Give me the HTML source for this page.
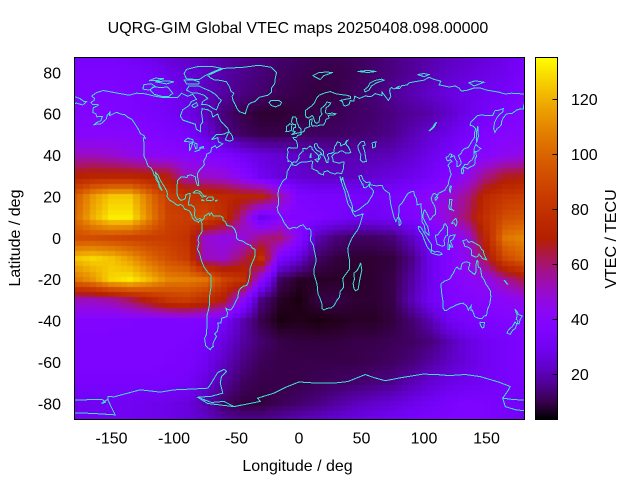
<!DOCTYPE html>
<html><head><meta charset="utf-8">
<style>
html,body{margin:0;padding:0;background:#fff;}
#w{position:relative;width:640px;height:480px;overflow:hidden;background:#fff;}
#hm{position:absolute;left:74px;top:57px;width:450px;height:362px;background:#7a00f0;}
#ov{position:absolute;left:0;top:0;}
text{font-family:"Liberation Sans",Arial,sans-serif;font-size:16px;fill:#000;}
</style></head>
<body><div id="w">
<canvas id="hm" width="450" height="362"></canvas>
<svg id="ov" width="640" height="480" viewBox="0 0 640 480">
<defs>
<clipPath id="pc"><rect x="74" y="57" width="450" height="362"/></clipPath>
<linearGradient id="cb" x1="0" y1="1" x2="0" y2="0">
<stop offset="0" stop-color="rgb(0,0,0)"/>
<stop offset="0.05" stop-color="rgb(57,0,79)"/>
<stop offset="0.1" stop-color="rgb(81,0,150)"/>
<stop offset="0.15" stop-color="rgb(99,1,206)"/>
<stop offset="0.2" stop-color="rgb(114,2,243)"/>
<stop offset="0.25" stop-color="rgb(128,4,255)"/>
<stop offset="0.3" stop-color="rgb(140,7,243)"/>
<stop offset="0.35" stop-color="rgb(151,11,206)"/>
<stop offset="0.4" stop-color="rgb(161,16,150)"/>
<stop offset="0.45" stop-color="rgb(171,23,79)"/>
<stop offset="0.5" stop-color="rgb(180,32,0)"/>
<stop offset="0.55" stop-color="rgb(189,42,0)"/>
<stop offset="0.6" stop-color="rgb(198,55,0)"/>
<stop offset="0.65" stop-color="rgb(206,70,0)"/>
<stop offset="0.7" stop-color="rgb(213,87,0)"/>
<stop offset="0.75" stop-color="rgb(221,108,0)"/>
<stop offset="0.8" stop-color="rgb(228,131,0)"/>
<stop offset="0.85" stop-color="rgb(235,157,0)"/>
<stop offset="0.9" stop-color="rgb(242,186,0)"/>
<stop offset="0.95" stop-color="rgb(249,219,0)"/>
<stop offset="1" stop-color="rgb(255,255,0)"/>
</linearGradient>
</defs>

<g clip-path="url(#pc)">
<g transform="translate(299 238) scale(1.25 -2.0686)" fill="none" stroke="#40e0d0" stroke-width="1" shape-rendering="crispEdges">
<polyline vector-effect="non-scaling-stroke" points="-166,68.5 -162,70.3 -156.5,71.3 -152,70.8 -145,70 -141,69.6 -136,69 -130,70 -124,69.8 -117,68.8 -110,68 -103,68 -97,68 -94,70 -89,68.5 -85,69.5 -82,67 -86,66 -88,64 -93,62 -95,59 -93,57 -88,56 -83,55 -82,52.5 -79,51.5 -79,54.5 -77,56 -77.5,58.5 -78,60.5 -77.5,62.5 -73,62 -70,61 -69,58.5 -65,60 -64,58 -62,56 -60,55 -57,53 -56,51.5 -60,50.2 -66,50 -70,47.5 -65,48.5 -64.5,46.5 -61,45.5 -63.5,44.5 -66,43.5 -67,44.7 -70,43.5 -70.5,41.7 -72,41 -74,40.5 -74,39.5 -75.5,38 -76.3,37 -75.7,35.5 -77,34.5 -79,33.3 -81,31.5 -81.2,29.5 -80.3,27 -80.2,25.5 -81.3,25.5 -82.5,27.5 -82.8,29.5 -84.5,30 -86,30.4 -89,30.3 -89.5,29.2 -91,29.4 -94,29.6 -97,28 -97.5,25.5 -97.8,22.5 -97.2,20.5 -96,19 -94.5,18.2 -92,18.6 -91,19.2 -90.4,21 -88,21.5 -87,21.5 -87.5,19.5 -88.2,17.5 -88.5,16 -86,15.9 -84,15 -83.3,13.5 -83.7,11 -83,10 -81.5,8.8 -79.5,9.5 -77.5,8.6 -76,9.5 -75.5,10.6 -74,11.2 -72,12 -71.5,11 -70,12.2 -68.5,10.6 -66,10.6 -63,10.7 -61,10 -61,8.5 -59,8 -57.5,6 -54,5.7 -52,4.7 -51,3.5 -50,1.8 -50,0 -48.5,-1 -45,-1.5 -42,-2.8 -39,-3.5 -37,-5 -35.2,-5.5 -35,-8 -36,-10 -37.5,-12 -39,-14.5 -39.3,-17.5 -40,-20 -41,-22 -42,-23 -44.5,-23.3 -47,-24.5 -48.5,-26 -48.7,-28.5 -50.5,-30.5 -52.5,-33 -53.5,-34 -55,-34.8 -57,-34.5 -58.5,-34 -57.3,-36 -57.5,-38 -62,-38.8 -62.3,-41 -65,-41.2 -64.5,-42.5 -65.3,-45 -67.5,-46.3 -66,-47.5 -68.3,-50.2 -69,-51.5 -68.5,-52.5 -70,-53 -71,-54 -73,-53 -74.7,-52 -75.5,-48.5 -74,-46.5 -73.7,-43 -73.5,-41 -73.7,-37.5 -72.5,-35 -71.5,-32 -71.5,-28 -70.5,-24 -70.2,-20 -70.4,-18 -72.5,-17 -76,-14 -78,-11 -79.5,-7.5 -81.2,-5.5 -80.5,-3.5 -80,-2.5 -80.8,-1 -80,1 -79,1.7 -77.7,3 -77.4,4.5 -77.5,6.8 -78.5,8.5 -79.5,8.5 -80.5,7.5 -81.5,8 -83.5,8.5 -85.5,10 -85.8,11 -87.5,13 -89,13.5 -91.5,14 -93,15.7 -95,16.2 -96.5,15.7 -98.5,16.3 -101,17.5 -103.5,18.3 -105.5,20 -105.3,21.5 -106,23 -108,25 -109.5,26.5 -111,28 -112.8,30.5 -114.8,31.8 -114.5,30.5 -113.3,28.5 -112.2,27 -111.5,25.5 -110.5,24.2 -109.5,23 -110.2,23.4 -112,24.8 -112.3,26.5 -114.2,28 -114.8,29.8 -116,30.5 -116.7,31.8 -117.2,32.7 -118.5,34 -120.6,34.6 -121.8,36.5 -122.5,37.8 -123.7,39 -124.2,40.5 -124,43 -124,46 -124.6,48.3 -123,48.2 -124,49.5 -127,50.5 -128,52 -130,54 -131.5,55.5 -134,57.5 -136.5,58.2 -139.5,59.6 -143,60 -146,60.8 -148.5,60 -151.5,59.2 -151.3,60.8 -153.5,59.2 -154.2,57.5 -156.5,56.2 -159,55 -161.7,55.2 -164.5,54.5 -162,55.8 -158.5,56.7 -157.3,58.7 -161.7,58.6 -162.5,60 -165,60.7 -164.5,63 -161,64 -161,64.5 -165,64.5 -166.5,65.5 -164,66.5 -163.5,67.5 -166,68.5"/>
<polyline vector-effect="non-scaling-stroke" points="-73,78.5 -66,80.5 -60,82 -45,82.5 -32,83.5 -22,82.5 -18,80 -19,77 -19.5,74.5 -22,72.5 -22,70.5 -25,69 -32,68 -35,66 -38,65.5 -40.5,64.5 -42,62 -43,60 -45,60.5 -47.5,61 -49.5,62.5 -51,64.5 -52.8,66.5 -53.5,68.5 -52,70 -54.5,71 -55.5,73 -58,75.5 -63,76.2 -68,76.5 -71,77.5 -73,78.5"/>
<polyline vector-effect="non-scaling-stroke" points="-62,66.5 -64,65 -66,62 -68.5,62.5 -72,64 -74.5,64.5 -78,64.5 -77,66 -73,67.5 -76,69 -81,70 -86,70.2 -90,71.5 -88,73.5 -80,73.5 -76,72.3 -71,71 -67,69.5 -64,67.5 -62,66.5"/>
<polyline vector-effect="non-scaling-stroke" points="-119,71.5 -117,73 -110,72.8 -105,73 -101,70 -104,68.5 -110,68.5 -116,69.5 -119,71.5"/>
<polyline vector-effect="non-scaling-stroke" points="-125,72 -124,74.2 -118,74.5 -115,73.3 -120,71.5 -125,72"/>
<polyline vector-effect="non-scaling-stroke" points="-90,77 -80,76.5 -75,78.5 -68,80.5 -62,82 -70,83 -80,83 -90,81.5 -92,79.5 -90,77"/>
<polyline vector-effect="non-scaling-stroke" points="-80,74.5 -90,74.5 -92,76.5 -85,76.5 -80,75.5 -80,74.5"/>
<polyline vector-effect="non-scaling-stroke" points="-115,75.5 -105,76 -100,75.5 -106,74.5 -115,75.5"/>
<polyline vector-effect="non-scaling-stroke" points="-120,76 -115,77.3 -108,77 -113,76.2 -120,76"/>
<polyline vector-effect="non-scaling-stroke" points="-86,64 -82,65.5 -81,64 -84,63 -86,64"/>
<polyline vector-effect="non-scaling-stroke" points="-59,47.5 -56,51.5 -53.5,49.5 -52.7,47.5 -55.5,46.8 -59,47.5"/>
<polyline vector-effect="non-scaling-stroke" points="-92,46.7 -89,48.3 -85,47.5 -84.5,46.5 -88,46.5 -92,46.7"/>
<polyline vector-effect="non-scaling-stroke" points="-87.8,42 -87.5,45.5 -85,46 -86.5,43.5 -87.8,42"/>
<polyline vector-effect="non-scaling-stroke" points="-84,46 -81.5,45.5 -81.7,43.2 -82.5,43 -84,45.5"/>
<polyline vector-effect="non-scaling-stroke" points="-83.5,41.7 -79,42.8 -81,42.2 -83.5,41.7"/>
<polyline vector-effect="non-scaling-stroke" points="-79.8,43.3 -76.2,43.5 -76.5,44.2 -79,43.8 -79.8,43.3"/>
<polyline vector-effect="non-scaling-stroke" points="-85,21.8 -82,23.1 -79,22.4 -76,20.3 -74.2,20.2 -77.5,19.8 -80,21.8 -83,21.8 -85,21.8"/>
<polyline vector-effect="non-scaling-stroke" points="-74.5,18.5 -72.5,19.9 -69,19.7 -68.3,18.5 -71,18 -74.5,18.3"/>
<polyline vector-effect="non-scaling-stroke" points="-78.3,18.3 -76.3,18 -77,18.5 -78.3,18.3"/>
<polyline vector-effect="non-scaling-stroke" points="-67.2,18 -65.6,18.3 -65.8,18 -67.2,18"/>
<polyline vector-effect="non-scaling-stroke" points="-180,68.5 -175,67.3 -172,66 -170,66 -173,64.3 -178,65.2 -180,65"/>
<polyline vector-effect="non-scaling-stroke" points="-5.6,36 -6,35.8 -9.5,32 -10,29 -13,27.5 -16,24 -17,21 -16.3,19 -16.5,16 -17.5,14.7 -16.7,12.5 -15,11 -13.5,9.5 -12,7.5 -9,5 -7.5,4.4 -4,5.2 -2,4.8 1,6 3.5,6.3 6,4.3 8.5,4.5 9.5,3.5 9.5,1 9,-1 11.5,-3.5 12.2,-6 13.3,-9 13.8,-11 12.2,-14.5 11.8,-17 14.5,-22.5 15.2,-27 16.5,-28.6 18.2,-31.5 18.3,-34 20,-34.8 22.5,-34 25.8,-33.8 28,-32.6 30.5,-30 32.5,-28.5 32.8,-26 35.5,-24 35.5,-22 35,-19.5 36.8,-18 40.5,-15 40.5,-11 39.5,-8 39,-5 40.5,-2.5 42,-0.5 44,1.5 46.5,3.5 48.5,6 50,9 51.2,11.7 49,11.2 45,10.5 43.3,11.8 42.5,13 41.5,14.5 39.5,16 38.5,18 37.2,21 36.5,23 35.6,24 34,27 32.6,29.8 34.2,27.8 34.9,29.5 35.5,27.8 37,25 39,22 40.5,19 42.5,16 43.2,13 45,12.8 48.5,14 52,15.7 55,17 56.8,18.8 58.5,20.5 59.8,22.5 58.5,23.6 56.3,24.8 56.4,26.2 55,25 53,24.2 51.5,24.5 51.3,26 50.5,26 50,27 48.5,28.5 48,30 50,30.2 51.5,27.9 54,26.7 56.5,27.1 57.5,25.7 61.5,25.2 66.5,25.4 67.4,24 68.5,23.2 70,22.5 72.5,21.5 72.8,19 73.5,16 74.8,12.8 76,10 77.5,8 78.2,8.9 79.5,10.3 80,13 80.2,15.5 82.2,16.7 84.5,19 87,21.5 88.5,22 90.5,22.5 91.8,22.4 92.5,20.5 94,19 94.5,16 97.5,16.5 98,13 98.5,10 98.3,8 100.3,6 101,3 103.4,1.5 104.2,1.4 103.5,4 103,5.5 101.5,7 100.3,8.5 99.2,10 99.5,12.5 100.5,13.5 102,12.3 103,11 104.8,8.7 106,9.5 107,10.5 109.2,11.5 109.3,13.5 108.5,15.5 106.5,17.5 105.7,19 106.7,20.7 108,21.6 110,21 110.5,20.3 111.5,21.6 114,22.3 116.5,23 118,24.5 119.5,26 120,28 121.8,30.8 121,32 120.5,33.8 119.2,35 120.5,36.3 122.5,37 121,37.8 119,37.2 118,38.2 117.5,39 119,39.3 121,40.7 122.3,40.4 121.3,39 124,39.8 125.3,37.8 126.5,37 126.2,34.5 127.8,34.7 129.4,35.6 129.5,37 128.3,38.8 127.5,39.8 129.7,40.9 130.7,42.3 132.5,43.2 135.5,43.8 138,46.5 140.3,48.5 140.5,51 141.3,52.8 139,54.2 136.8,54.5 137.5,56 140.5,57.8 143,59.3 146.5,59.4 151.5,59.2 155,59.3 156.7,61.5 160,61.8 163.5,62.6 163,61 160,59.5 158,57.8 156.5,56 155.7,53 156.7,51 158.5,52.9 160,53.5 162,54.8 162,56.2 163.3,58 166,60 170.5,60.2 174,61.8 177.5,62.5 179.5,62.3 180,65"/>
<polyline vector-effect="non-scaling-stroke" points="180,69.5 176,69.8 170,70 165,69.6 160,70.5 155,71 150,71.5 145,72.5 140,72.5 135,71.5 130,71 128,72.5 125,73.5 120,73 115,73.7 112,74 113.5,75.8 108,76.7 104,77.7 100,76.3 97,76 92,75.5 88,75 86.5,74 82,73.6 80.5,72.2 78,72.2 80.5,73.5 76,72 74,72.8 72.8,72.2 72.5,71 73.5,68.5 71.5,66.5 69,68.5 66.5,70.5 66.5,68.8 64.5,69.2 61,69.8 58,68.5 55,68.4 53.5,68.8 48.5,67.5 44.5,68.5 44,66.2 41,66.4 40,64.5 37,63.8 35.5,64.3 34.8,65.9 33,66.5 36,66.9 41,67.5 41,68.5 38,69 33,69.4 29,69.8 25,70.8 20,70 16,69 14,67.5 12.5,65.5 10.5,64 7,62.5 5,61.5 5,59.5 5.7,58.5 7.5,58 10.5,59.2 11.2,58.8 12,57.5 12.7,56 14.3,55.4 15.9,56.1 16.5,57.5 16.5,58.5 18.5,60 17.5,61 17.5,62.5 21.3,64.5 22.2,65.8 25.4,65.3 24.5,64.3 21.5,62.8 21.3,60.7 22.5,60 26.5,60.4 29.5,60 28,59.5 23.4,59.3 24,58 21.5,57.3 21,56 19.5,54.5 17,54.7 14,54 12,54.3 10.8,54 10,55 10.5,57.7 8.5,57 8.2,55.5 8.7,53.9 7,53.5 5,53 4,51.5 2,51 1.5,50 -1.2,49.5 -1.9,48.7 -4.6,48.5 -4.2,47.8 -2.2,47.1 -1.5,46 -1.2,44.5 -1.5,43.4 -4,43.4 -8,43.7 -9.3,43 -8.8,41.5 -9.5,39 -8.8,37.9 -8.9,37 -7.5,37.2 -6.3,36.8 -5.6,36 -4.5,36.7 -2,36.7 -0.5,38.2 0.2,39 -0.3,39.5 0.5,40.5 3.2,41.9 3,43.2 4.5,43.4 6,43 7.5,43.8 8.8,44.4 10.2,43.9 10.5,42.9 12.2,41.8 14,40.8 15.6,40 15.6,38.2 16.1,38 17.1,39 16.5,39.8 17,40.5 18.5,40.1 18,41 16,41.9 14,42.5 12.3,44.2 12.4,45.3 13.7,45.7 14.5,45.3 15.5,43.8 17.5,43 19.5,41.8 19.5,40.2 21,38.3 22,36.5 23,36.5 23,38 24,38.2 22.6,40.3 24,40.8 26,40.8 26.5,41.3 28,41.5 28.2,43 28.6,44.2 29.6,45 30.7,46.5 33,46 33.5,44.5 35.5,45.2 36.5,45.2 38,47 39,47.2 37.5,46 38,45 39.5,44 41.5,41.5 40,41 37,41.2 35,42 33,42 31,41.1 29,41 27.5,40.4 26.2,39.5 27,38.5 27.2,37 28.5,36.7 30.5,36.4 32.5,36.1 34.5,36.8 36,36.8 35.8,35.5 35.5,33.5 34.9,32.5 34.2,31.3 33,31.1 32.3,31.3 30,31.4 29,30.9 25,31.6 23,32.5 20,32 19.5,30.5 18,30.8 15.5,31.5 15,32.3 11.5,33.2 10.3,33.7 10.5,35.5 11,37 9.5,37.3 8,36.9 5,36.8 3,36.8 1,36.5 -1,35.7 -2.2,35.1 -5,35.2 -5.6,36"/>
<polyline vector-effect="non-scaling-stroke" points="47,44.5 49.5,46.5 52,46.7 53,45 51,44.5 52.5,42 53,40 53.5,38 54,37 51,36.7 49,37.8 49.5,40.3 48,42 47.5,43 47,44.5"/>
<polyline vector-effect="non-scaling-stroke" points="58.5,46 61.5,46.5 61,44 59,43.5 58.5,46"/>
<polyline vector-effect="non-scaling-stroke" points="104,51.7 106,52.5 108.5,54 109.8,55.7 109,55.5 107,53.5 104.5,52 104,51.7"/>
<polyline vector-effect="non-scaling-stroke" points="-5,50 -3,50.5 1.5,51 1.7,52.8 0,53.5 -0.5,54.5 -1.5,55.5 -2,57 -1.8,57.6 -3,58.6 -5,58.6 -5.7,57.3 -6,56 -4.8,55 -3,54.9 -3,54 -3,53.4 -4.5,53.2 -4.2,52.3 -5,51.7 -3,51.4 -5.7,50 -5,50"/>
<polyline vector-effect="non-scaling-stroke" points="-6,52 -6,53.8 -5.5,54.7 -7.5,55.3 -8.5,54.5 -10,54 -9.8,52 -10.3,51.6 -8,51.6 -6,52"/>
<polyline vector-effect="non-scaling-stroke" points="-22,64 -24,65.5 -22.5,66.4 -16,66.5 -14,65.5 -15,64.3 -18.7,63.4 -22,64"/>
<polyline vector-effect="non-scaling-stroke" points="11,78.5 16,80 22,80.2 27,80 20,78.5 17,76.6 14,77.5 11,78.5"/>
<polyline vector-effect="non-scaling-stroke" points="52,71.5 55,73 57,75 61,76.2 66,76.8 68,76.3 62,75 58,73.5 56,71.5 53,70.7 52,71.5"/>
<polyline vector-effect="non-scaling-stroke" points="140,73.5 136,75 141,76 148,75.3 140,73.5"/>
<polyline vector-effect="non-scaling-stroke" points="95,79 100,79.5 104,79 100,78 95,79"/>
<polyline vector-effect="non-scaling-stroke" points="47,80.5 55,81 62,80.5 55,80 47,80.5"/>
<polyline vector-effect="non-scaling-stroke" points="8.5,39 9.7,41 9.5,39 8.5,39"/>
<polyline vector-effect="non-scaling-stroke" points="12.5,38 15.6,38.2 15,36.7 12.5,38"/>
<polyline vector-effect="non-scaling-stroke" points="80,6 79.8,8 80,9.8 81.2,8.5 81.8,7.2 80.6,6 80,6"/>
<polyline vector-effect="non-scaling-stroke" points="49.3,-12 50.3,-15.5 49.5,-17.5 48.5,-20.5 47.3,-24.8 45.2,-25.5 44,-24.5 43.3,-22 44.3,-20 44,-17 46.5,-15.7 48,-14 49.3,-12"/>
<polyline vector-effect="non-scaling-stroke" points="130.9,34 132.5,35.5 135,35.6 136.5,37 138.5,37.8 140,39.5 140,41.3 141.5,41.2 142,39.5 141,38.3 140.8,36 139.8,35 138.5,34.7 136.8,34.3 135,33.5 132.5,34.2 130.9,34"/>
<polyline vector-effect="non-scaling-stroke" points="129.8,33.3 131,34 131.8,32.5 131,31 130.2,31.3 129.8,33.3"/>
<polyline vector-effect="non-scaling-stroke" points="140,41.5 140,43 141.5,45.4 143,44.2 145.5,43.3 143.3,42 141,41.8 140,41.5"/>
<polyline vector-effect="non-scaling-stroke" points="142,46 141.8,48.5 142.2,51.8 143,54 143.3,51 143.5,49 142.5,47 142,46"/>
<polyline vector-effect="non-scaling-stroke" points="120.2,23 121,25.2 121.9,25 121,22 120.2,23"/>
<polyline vector-effect="non-scaling-stroke" points="108.6,19.2 110,20 111,19.6 109.5,18.2 108.6,19.2"/>
<polyline vector-effect="non-scaling-stroke" points="120,14.5 120.5,18.5 122.3,18.5 122,16.5 121.5,14.3 124,13 123,13.5 120.8,13.8 120,14.5"/>
<polyline vector-effect="non-scaling-stroke" points="122,7 123.5,8.5 125.5,9.5 126.5,7.5 125.5,5.8 124,7.2 122,7"/>
<polyline vector-effect="non-scaling-stroke" points="109,1.5 109.7,-1 110.5,-3 114.5,-4 116.5,-3.5 116,-1 117.5,1 118.8,1.2 119,5 117,7 116,6.5 115.5,5 113,3.2 111,1.5 109,1.5"/>
<polyline vector-effect="non-scaling-stroke" points="95.3,5.6 97.5,5.2 100.3,2.2 103.5,-1 106,-3.2 106,-5.8 104.5,-5.8 102.3,-4 100.3,-1 98.6,1.7 96,3.8 95.3,5.6"/>
<polyline vector-effect="non-scaling-stroke" points="105.2,-6.8 106.5,-6 108.5,-6.8 111,-6.5 112.8,-6.9 114.5,-7.8 112,-8.3 108.5,-7.8 106,-7.3 105.2,-6.8"/>
<polyline vector-effect="non-scaling-stroke" points="119,-5.5 120.5,-5.5 120.5,-3 121.5,-4.5 123,-4.3 121,-1.5 123,-0.8 125,1.5 121,1.2 120,0.5 119.5,-1.5 119,-5.5"/>
<polyline vector-effect="non-scaling-stroke" points="131,-1.3 134,-0.8 136,-2.2 138,-1.6 141,-2.6 144.5,-3.8 146,-5.5 147.5,-6.2 148,-8 150,-10.5 147,-10 144,-7.8 143,-9 141,-9.2 138,-8.3 137.8,-5.5 135.5,-4.5 132.7,-4 132,-2.8 131,-1.3"/>
<polyline vector-effect="non-scaling-stroke" points="113.5,-22 114,-26 115,-30 115,-33.5 116.5,-35 118,-35 121,-33.8 124,-33 126,-32.3 129,-31.7 131.2,-31.5 134,-32.7 135.5,-34.8 136.8,-33.5 137.8,-32.7 137.5,-35 138.5,-34.8 139.6,-36.2 140.5,-38 143.5,-38.8 146.3,-39 148,-37.8 150,-37.4 150.8,-34.5 152.5,-32.2 153.5,-28.5 153,-25.5 151,-23.5 149.5,-22.3 148,-20 146.3,-18.8 145.5,-16 145.3,-14.8 143.5,-14 143,-11 142.5,-10.8 141.6,-12.9 141.5,-16.5 140.5,-17.6 139,-17 136.5,-15.8 135.5,-15 136.8,-12.2 136,-11.8 133,-11.5 131,-12.2 130,-13 129.5,-15 128,-15 126.5,-14 125,-15 123.5,-17 122.2,-18 121,-19.6 118.5,-20.4 116.5,-20.8 114.5,-21.8 113.5,-22"/>
<polyline vector-effect="non-scaling-stroke" points="144.6,-40.7 148.3,-40.9 148,-43 146.8,-43.6 145.2,-42.2 144.6,-40.7"/>
<polyline vector-effect="non-scaling-stroke" points="172.7,-34.4 174.3,-35.4 175.5,-37 178.5,-37.7 177,-39.3 176,-41.5 174.6,-41.3 175.2,-40 173.8,-39.2 174.6,-37.4 172.7,-34.4"/>
<polyline vector-effect="non-scaling-stroke" points="172.7,-40.5 174.3,-41.5 173,-43.8 171,-44.5 169,-46.6 166.5,-46 167,-45 168.3,-44 170.5,-42.9 172,-41.5 172.7,-40.5"/>
<polyline vector-effect="non-scaling-stroke" points="164,-20.3 167,-22.3 166.5,-22.3 164,-20.3"/>
<polyline vector-effect="non-scaling-stroke" points="-180,-78.4 -170,-78.2 -160,-78 -157,-78.2 -155,-79.5 -158,-80 -153,-78 -153,-76.6 -148,-76.8 -137,-75 -127,-73.4 -111,-74.5 -100,-73.4 -85,-73 -73,-72.6 -71,-71 -68,-68 -65,-65 -60,-63.5 -58,-64.5 -62,-67 -63,-70 -61,-75 -70,-76.5 -81,-77 -73,-80 -52,-81.5 -31,-79 -33,-77.4 -20,-75 -10,-72 0,-69.6 10,-70 27,-70.2 39,-69.4 53,-66 60,-67.5 69,-69 80,-67.7 99,-65.8 110,-66 120,-66.5 133,-66 145,-67 160,-69.7 169,-71.8 167,-74 163,-77.4 170,-78 180,-78.4"/>
<polyline vector-effect="non-scaling-stroke" points="-180,-84.5 -165,-84.8 -147,-85.5 -150,-82 -153,-78"/>
<polyline vector-effect="non-scaling-stroke" points="163,-77.4 165,-81.5 173,-83 180,-83.5"/>
<polyline vector-effect="non-scaling-stroke" points="-81,-77 -70,-79.5 -60,-79 -52,-81.5"/>
</g>
</g>

<rect x="74.5" y="57.5" width="450" height="362" fill="none" stroke="#000" stroke-width="1"/>

<rect x="535.5" y="57.5" width="22" height="362" fill="url(#cb)" stroke="#000" stroke-width="1"/>
<g stroke="#000" stroke-width="1">
<line x1="552.5" y1="374.5" x2="557.5" y2="374.5"/>
<line x1="552.5" y1="319.5" x2="557.5" y2="319.5"/>
<line x1="552.5" y1="264.5" x2="557.5" y2="264.5"/>
<line x1="552.5" y1="209.5" x2="557.5" y2="209.5"/>
<line x1="552.5" y1="154.5" x2="557.5" y2="154.5"/>
<line x1="552.5" y1="99.5" x2="557.5" y2="99.5"/>
</g>
<text x="571" y="380">20</text>
<text x="571" y="325">40</text>
<text x="571" y="270">60</text>
<text x="571" y="215">80</text>
<text x="571" y="160">100</text>
<text x="571" y="105">120</text>

<g text-anchor="end">
<text x="61" y="78.3">80</text>
<text x="61" y="119.7">60</text>
<text x="61" y="161.1">40</text>
<text x="61" y="202.4">20</text>
<text x="61" y="243.8">0</text>
<text x="61" y="285.2">-20</text>
<text x="61" y="326.5">-40</text>
<text x="61" y="367.9">-60</text>
<text x="61" y="409.3">-80</text>
</g>
<g text-anchor="middle">
<text x="111.5" y="443.5">-150</text>
<text x="174" y="443.5">-100</text>
<text x="236.5" y="443.5">-50</text>
<text x="299" y="443.5">0</text>
<text x="361.5" y="443.5">50</text>
<text x="424" y="443.5">100</text>
<text x="486.5" y="443.5">150</text>
<text x="298" y="33">UQRG-GIM Global VTEC maps 20250408.098.00000</text>
<text x="297.5" y="471">Longitude / deg</text>
<text transform="translate(20 238) rotate(-90)">Latitude / deg</text>
<text transform="translate(616 239) rotate(-90)">VTEC / TECU</text>
</g>
</svg>
</div>
<script>
(function(){
var G=[
[32,32,32,30,28,24,22,20,18,16,15,13,12,11,11,12,13,15,17,19,21,23,25,28,32],
[35,35,35,34,32,28,25,22,19,16,14,12,11,10,10,11,13,15,17,20,23,25,27,29,33],
[36,36,36,35,33,30,27,22,18,15,13,11,10,9,10,12,14,17,20,23,26,28,30,32,36],
[38,38,37,36,34,32,28,22,14,10,8,8,9,10,11,12,13,15,17,19,23,28,32,35,38],
[40,40,40,40,38,36,34,26,16,12,10,10,12,12,12,13,14,16,20,24,28,33,37,39,40],
[52,52,50,46,43,42,41,39,36,30,26,24,22,20,20,20,20,21,24,28,33,38,40,44,46],
[70,72,72,72,70,68,52,50,48,40,30,25,24,22,22,22,24,26,28,32,38,45,58,66,68],
[95,115,125,125,105,85,80,78,75,72,72,55,36,34,34,33,32,34,38,42,48,58,75,82,85],
[100,120,132,132,110,88,85,90,78,55,28,38,38,36,33,30,30,32,36,42,50,62,80,92,95],
[92,92,90,88,86,85,80,50,46,48,58,60,40,20,14,12,12,14,22,32,38,48,75,105,110],
[124,128,124,115,102,92,85,52,50,62,78,35,25,12,9,8,8,9,15,28,38,45,65,90,100],
[104,114,128,132,122,110,108,105,88,80,42,12,7,7,7,7,8,10,18,28,38,42,45,55,65],
[52,52,55,62,72,82,85,78,68,42,15,7,5,9,10,8,8,10,20,30,36,38,40,42,45],
[38,38,37,37,36,36,37,36,32,20,10,5,6,5,6,7,7,9,13,20,30,34,36,37,38],
[36,36,36,36,36,36,35,32,26,18,13,10,9,9,9,10,10,11,12,14,20,26,30,33,36],
[36,36,36,36,36,35,34,30,22,15,11,10,10,10,10,10,11,12,14,18,22,26,30,33,36],
[34,34,34,34,34,33,32,26,18,12,10,10,10,11,12,13,14,16,20,24,27,29,31,33,34],
[30,30,30,30,29,28,26,20,12,9,9,11,13,15,18,21,23,25,28,31,34,36,35,33,30],
[30,30,30,30,29,28,26,24,20,18,18,20,22,24,26,28,30,32,34,35,36,36,35,33,30]
];
function val(lon,lat){
 var fx=(lon+180)/15,i=Math.min(23,Math.max(0,Math.floor(fx))),tx=fx-i;
 var fy=(90-lat)/10,j=Math.min(17,Math.max(0,Math.floor(fy))),ty=fy-j;
 return G[j][i]*(1-tx)*(1-ty)+G[j][i+1]*tx*(1-ty)+G[j+1][i]*(1-tx)*ty+G[j+1][i+1]*tx*ty;
}
function col(v){
 var x=(v-3.75)/131.65; if(x<0)x=0; if(x>1)x=1;
 var r=Math.sqrt(x),g=x*x*x,b=Math.sin(2*Math.PI*x); if(b<0)b=0;
 return "rgb("+Math.round(r*255)+","+Math.round(g*255)+","+Math.round(b*255)+")";
}
var c=document.getElementById("hm"); if(!c.getContext) return;
var ctx=c.getContext("2d");
var sy=362/175;
for(var i=0;i<=72;i++){
 var lon=-180+5*i;
 var x0=Math.round((lon-2.5+180)*1.25),x1=Math.round((lon+2.5+180)*1.25);
 if(x0<0)x0=0; if(x1>450)x1=450;
 for(var j=0;j<=70;j++){
  var lat=87.5-2.5*j;
  var y0=Math.round((87.5-lat-1.25)*sy),y1=Math.round((87.5-lat+1.25)*sy);
  if(y0<0)y0=0; if(y1>362)y1=362;
  ctx.fillStyle=col(val(lon,lat));
  ctx.fillRect(x0,y0,x1-x0,y1-y0);
 }
}
})();
</script>
</body></html>
